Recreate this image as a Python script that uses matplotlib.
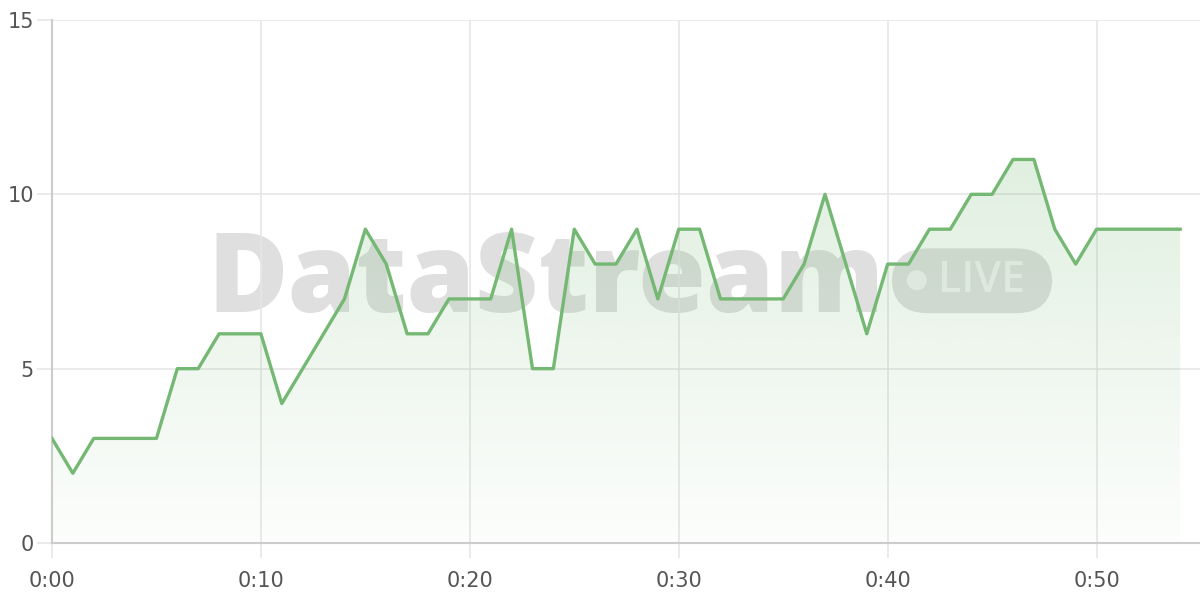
import numpy as np
import matplotlib.pyplot as plt
from matplotlib.patches import FancyBboxPatch, Ellipse

# 每分钟的数据
minutes = list(range(55))
values = [3, 2, 3, 3, 3, 3, 5, 5, 6, 6,
          6, 4, 5, 6, 7, 9, 8, 6, 6, 7,
          7, 7, 9, 5, 5, 9, 8, 8, 9, 7,
          9, 9, 7, 7, 7, 7, 8, 10, 8, 6,
          8, 8, 9, 9, 10, 10, 11, 11, 9, 8,
          9, 9, 9, 9, 9]
tick_pos = [0, 10, 20, 30, 40, 50]
tick_labels = ['0:00', '0:10', '0:20', '0:30', '0:40', '0:50']
y_ticks = [0, 5, 10, 15]

green = '#74b874'
grid_c = '#e6e6e6'
text_c = '#555555'

fig = plt.figure(figsize=(12, 6), dpi=100)
ax = fig.add_axes([0.0433, 0.095, 0.9567, 0.8717], zorder=2)
ax.patch.set_alpha(0)

# 渐变填充
fill = ax.fill_between(minutes, values, 0, color='none', lw=0)
grad = np.linspace(0.02, 0.22, 256).reshape(-1, 1)
cmap_img = np.zeros((256, 1, 4))
cmap_img[..., 0] = 0x74 / 255
cmap_img[..., 1] = 0xb8 / 255
cmap_img[..., 2] = 0x74 / 255
cmap_img[..., 3] = grad
im = ax.imshow(cmap_img, extent=[0, 54, 0, 11], origin='lower',
               aspect='auto', zorder=1)
im.set_clip_path(fill.get_paths()[0], transform=ax.transData)

ax.plot(minutes, values, color=green, lw=2.4, zorder=3)

ax.set_xlim(0, 54.95)
ax.set_ylim(0, 15)
ax.set_xticks(tick_pos)
ax.set_xticklabels(tick_labels)
ax.set_yticks(y_ticks)
ax.grid(True, color=grid_c, lw=1.2)
ax.set_axisbelow(True)
for s in ['top', 'right']:
    ax.spines[s].set_visible(False)
for s in ['left', 'bottom']:
    ax.spines[s].set_color('#cccccc')
    ax.spines[s].set_linewidth(1.5)
ax.tick_params(axis='both', colors=grid_c, length=11, width=1.2,
               labelcolor=text_c, labelsize=15)
ax.tick_params(axis='x', pad=9)
ax.tick_params(axis='y', pad=2)

# 水印（画在曲线下面）
fig.text(0.173, 0.48, 'DataStream', fontsize=79, fontweight='heavy',
         family='Open Sans', color='#b0b0b0', alpha=0.4, zorder=1)
badge = FancyBboxPatch((0.743, 0.478), 0.134, 0.108,
                       boxstyle='round,pad=0,rounding_size=0.03',
                       transform=fig.transFigure, facecolor='#b0b0b0',
                       alpha=0.4, lw=0, zorder=1, mutation_aspect=2)
fig.patches.append(badge)
fig.patches.append(Ellipse((0.764, 0.533), 0.0167, 0.0333,
                           transform=fig.transFigure, facecolor='white',
                           alpha=0.6, lw=0, zorder=1.5))
fig.text(0.782, 0.533, 'LIVE', fontsize=31, fontweight='semibold',
         fontstretch='condensed', family='Open Sans', color='white',
         alpha=0.6, va='center', zorder=1.5)

fig.savefig('out.png', dpi=100)
